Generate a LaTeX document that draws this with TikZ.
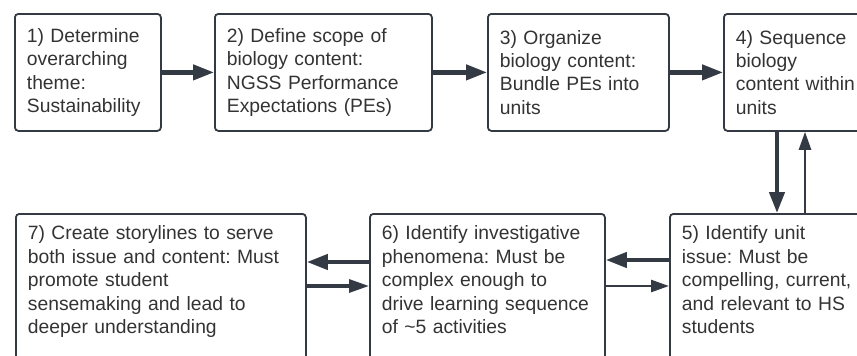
\documentclass[tikz,border=0pt]{standalone}
\usepackage{fontspec}
\setmainfont{Liberation Sans}
\usetikzlibrary{arrows.meta}
\frenchspacing

\definecolor{edge}{RGB}{52,58,68}
\definecolor{ink}{RGB}{51,51,51}

\tikzset{
  stepbox/.style={draw=edge, line width=1.8pt, rounded corners=3.5pt, anchor=north west,
    align=left, text=ink, inner xsep=12pt, inner ysep=12pt,
    font=\fontsize{19.3}{23.4}\selectfont},
  toprow/.style={stepbox, minimum height=117pt, text width=#1},
  lowrow/.style={stepbox, text width=#1, text height=14pt, text depth=140pt},
  fat/.style={draw=edge, line width=4.2pt, -{Triangle[length=21pt,width=15pt]}},
  mid/.style={draw=edge, line width=3.2pt, -{Triangle[length=20pt,width=13pt]}},
  slim/.style={draw=edge, line width=2.6pt, -{Triangle[length=18pt,width=12pt]}},
}

\begin{document}
\begin{tikzpicture}[x=1pt,y=-1pt]
\useasboundingbox (0,0) rectangle (857,356);

\node(det)[toprow=122pt] at (14,13) {1) Determine\\overarching\\theme:\\Sustainability};
\node(scope)[toprow=193pt] at (214,13) {2) Define scope of\\biology content:\\NGSS Performance\\Expectations (PEs)};
\node(org)[toprow=157pt] at (487,13) {3) Organize\\biology content:\\Bundle PEs into\\units};
\node(seq)[toprow=140pt] at (723,13) {4) Sequence\\biology\\content within\\units};

\node(issue)[lowrow=190pt] at (669,213) {5) Identify unit\\issue: Must be\\compelling, current,\\and relevant to HS\\students};
\node(phen)[lowrow=211pt] at (369,213) {6) Identify investigative\\phenomena: Must be\\complex enough to\\drive learning sequence\\of \textasciitilde5 activities};
\node(story)[lowrow=266pt] at (15,213) {7) Create storylines to serve\\both issue and content: Must\\promote student\\sensemaking and lead to\\deeper understanding};

% top row, left to right
\draw[fat] (det.east) -- (scope.west);
\draw[fat] (scope.east) -- (org.west);
\draw[fat] (org.east) -- (seq.west);

% down to the unit issue and back
\coordinate (dn) at ([xshift=54pt]seq.south west);
\coordinate (up) at ([xshift=136pt]issue.north west);
\draw[fat] (dn) -- (dn |- issue.north);
\draw[slim] (up) -- (up |- seq.south);

% bottom row, both ways
\coordinate (a) at ([yshift=-47pt]issue.north west);
\coordinate (b) at ([yshift=-73pt]phen.north east);
\draw[fat] (a) -- (a -| phen.east);
\draw[slim] (b) -- (b -| issue.west);
\coordinate (c) at ([yshift=-49pt]phen.north west);
\coordinate (d) at ([yshift=-73pt]story.north east);
\draw[fat] (c) -- (c -| story.east);
\draw[mid] (d) -- (d -| phen.west);

\end{tikzpicture}
\end{document}
